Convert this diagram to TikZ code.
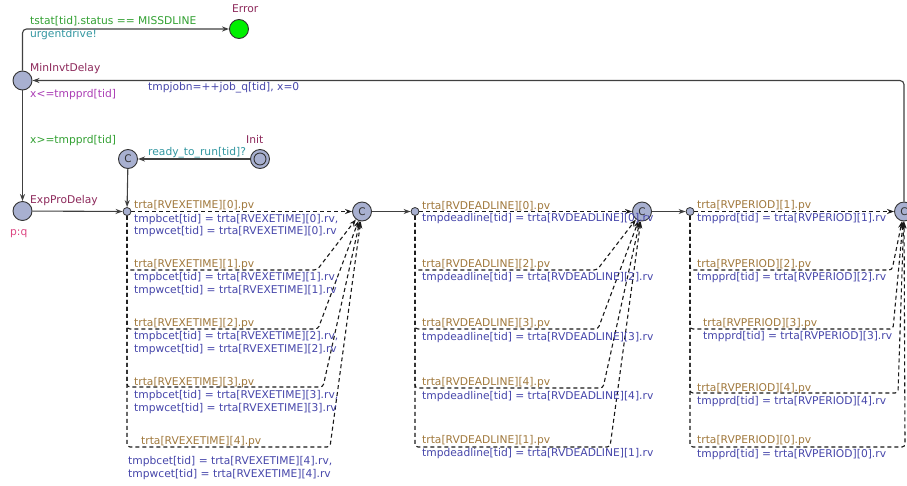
\documentclass[tikz,border=0pt]{standalone}
\usepackage{fontspec}
\setmainfont{DejaVu Sans}
\usetikzlibrary{arrows.meta}
\definecolor{cname}{RGB}{140,40,90}
\definecolor{cguard}{RGB}{50,160,50}
\definecolor{csync}{RGB}{50,150,160}
\definecolor{cupd}{RGB}{70,70,170}
\definecolor{cinv}{RGB}{170,60,180}
\definecolor{cpv}{RGB}{160,120,60}
\definecolor{cpq}{RGB}{220,70,130}
\definecolor{cloc}{RGB}{168,176,208}
\definecolor{cerr}{RGB}{0,240,0}
\newcommand\lblfont{\fontsize{10.7}{13}\selectfont}
\begin{document}
\begin{tikzpicture}[x=1pt,y=-1pt,
 loc/.style={circle,draw=black!80,fill=cloc,line width=0.9pt,minimum size=19pt,inner sep=0pt},
 branchpt/.style={circle,draw=black!80,fill=cloc,line width=0.8pt,minimum size=8pt,inner sep=0pt},
 commit/.style={loc,font=\fontsize{10.5}{10.5}\selectfont,text=black!80},
 edge/.style={draw=black!75,line width=1.1pt,-{Stealth[open,length=7pt,width=5pt]},rounded corners=4pt},
 dedge/.style={edge,draw=black!90,dash pattern=on 4pt off 3pt,rounded corners=3pt},
 lab/.style={anchor=west,inner sep=0pt,text height=7.8pt,text depth=0pt,font=\lblfont},
]
\useasboundingbox (0,0) rectangle (907,485);

% locations
\node[loc,fill=cerr] (error) at (239,29) {};
\node[loc] (mininv) at (22.5,80.5) {};
\node[loc] (exppro) at (22.5,211) {};
\node[loc] (init) at (260,159) {};
\draw[black!80,line width=0.9pt] (init.center) circle[radius=6pt];
\node[commit] (c1) at (128,159) {C};
\node[branchpt] (b1) at (127,211.5) {};
\node[commit] (c2) at (362,211.5) {C};
\node[branchpt] (b2) at (415,211.5) {};
\node[commit] (c3) at (642,211.5) {C};
\node[branchpt] (b3) at (690,211.5) {};
\node[commit] (c4) at (904,211.5) {C};

% location labels
\node[lab,text=cname] (nerror) at (232,9) {Error};
\node[lab,text=cname] (nmininv) at (30,68) {MinInvtDelay};
\node[lab,text=cinv] (imininv) at (30,94) {x<=tmpprd[tid]};
\node[lab,text=cname] (ninit) at (246,140) {Init};
\node[lab,text=cname] (nexppro) at (30,200) {ExpProDelay};
\node[lab,text=cpq] (rexppro) at (10,232) {p:q};

% solid edges
\draw[edge] (mininv) |- (error);
\node[lab,text=cguard] (g1) at (30,21) {tstat[tid].status == MISSDLINE};
\node[lab,text=csync] (s1) at (30,34) {urgentdrive!};
\draw[edge] (c4) |- (mininv);
\node[lab,text=cupd] (u1) at (148,87) {tmpjobn=++job\_q[tid], x=0};
\draw[edge] (mininv) -- (exppro);
\node[lab,text=cguard] (g2) at (30,140) {x>=tmpprd[tid]};
\draw[edge] (init) -- (c1);
\node[lab,text=csync] (s2) at (148,151.5) {ready\_to\_run[tid]?};
\draw[edge] (c1) -- (b1);
\draw[edge] (exppro) -- (b1);
\draw[edge] (c2) -- (b2);
\draw[edge] (c3) -- (b3);

% EXETIME branches
\draw[dedge] (b1) -- (c2);
\draw[dedge] (b1) -- (127,270) -- (317,270) -- (c2);
\draw[dedge] (b1) -- (127,329) -- (318,329) -- (c2);
\draw[dedge] (b1) -- (127,387) -- (323,387) -- (c2);
\draw[dedge] (b1) -- (127,447) -- (330,447) -- (c2);
\node[lab,text=cpv] (e0p) at (134,205) {trta[RVEXETIME][0].pv};
\node[lab,text=cupd] (e0b) at (134,218.5) {tmpbcet[tid] = trta[RVEXETIME][0].rv,};
\node[lab,text=cupd] (e0w) at (134,231) {tmpwcet[tid] = trta[RVEXETIME][0].rv};
\node[lab,text=cpv] (e1p) at (134,264) {trta[RVEXETIME][1].pv};
\node[lab,text=cupd] (e1b) at (134,277) {tmpbcet[tid] = trta[RVEXETIME][1].rv,};
\node[lab,text=cupd] (e1w) at (134,290) {tmpwcet[tid] = trta[RVEXETIME][1].rv};
\node[lab,text=cpv] (e2p) at (134,323) {trta[RVEXETIME][2].pv};
\node[lab,text=cupd] (e2b) at (134,336) {tmpbcet[tid] = trta[RVEXETIME][2].rv,};
\node[lab,text=cupd] (e2w) at (134,349) {tmpwcet[tid] = trta[RVEXETIME][2].rv};
\node[lab,text=cpv] (e3p) at (134,382) {trta[RVEXETIME][3].pv};
\node[lab,text=cupd] (e3b) at (134,395) {tmpbcet[tid] = trta[RVEXETIME][3].rv,};
\node[lab,text=cupd] (e3w) at (134,407.5) {tmpwcet[tid] = trta[RVEXETIME][3].rv};
\node[lab,text=cpv] (e4p) at (141,440.5) {trta[RVEXETIME][4].pv};
\node[lab,text=cupd] (e4b) at (128,461) {tmpbcet[tid] = trta[RVEXETIME][4].rv,};
\node[lab,text=cupd] (e4w) at (128,473.5) {tmpwcet[tid] = trta[RVEXETIME][4].rv};

% DEADLINE branches
\draw[dedge] (b2) -- (c3);
\draw[dedge] (b2) -- (415,270) -- (597,270) -- (c3);
\draw[dedge] (b2) -- (415,329) -- (598,329) -- (c3);
\draw[dedge] (b2) -- (415,388) -- (603,388) -- (c3);
\draw[dedge] (b2) -- (415,447) -- (610,447) -- (c3);
\node[lab,text=cpv] (d0p) at (422,205.5) {trta[RVDEADLINE][0].pv};
\node[lab,text=cupd] (d0u) at (422,218) {tmpdeadline[tid] = trta[RVDEADLINE][0].rv};
\node[lab,text=cpv] (d2p) at (422,264) {trta[RVDEADLINE][2].pv};
\node[lab,text=cupd] (d2u) at (422,277) {tmpdeadline[tid] = trta[RVDEADLINE][2].rv};
\node[lab,text=cpv] (d3p) at (422,323) {trta[RVDEADLINE][3].pv};
\node[lab,text=cupd] (d3u) at (422,336.5) {tmpdeadline[tid] = trta[RVDEADLINE][3].rv};
\node[lab,text=cpv] (d4p) at (422,382) {trta[RVDEADLINE][4].pv};
\node[lab,text=cupd] (d4u) at (422,395.5) {tmpdeadline[tid] = trta[RVDEADLINE][4].rv};
\node[lab,text=cpv] (d1p) at (422,440) {trta[RVDEADLINE][1].pv};
\node[lab,text=cupd] (d1u) at (422,453) {tmpdeadline[tid] = trta[RVDEADLINE][1].rv};

% PERIOD branches
\draw[dedge] (b3) -- (c4);
\draw[dedge] (b3) -- (690,270) -- (892,270) -- (c4);
\draw[dedge] (b3) -- (690,329) -- (893,329) -- (c4);
\draw[dedge] (b3) -- (690,393) -- (898,393) -- (c4);
\draw[dedge] (b3) -- (690,447) -- (905,447) -- (c4);
\node[lab,text=cpv] (p1p) at (697,205) {trta[RVPERIOD][1].pv};
\node[lab,text=cupd] (p1u) at (697,218) {tmpprd[tid] = trta[RVPERIOD][1].rv};
\node[lab,text=cpv] (p2p) at (697,264) {trta[RVPERIOD][2].pv};
\node[lab,text=cupd] (p2u) at (697,277) {tmpprd[tid] = trta[RVPERIOD][2].rv};
\node[lab,text=cpv] (p3p) at (703,323) {trta[RVPERIOD][3].pv};
\node[lab,text=cupd] (p3u) at (703,336) {tmpprd[tid] = trta[RVPERIOD][3].rv};
\node[lab,text=cpv] (p4p) at (697,388) {trta[RVPERIOD][4].pv};
\node[lab,text=cupd] (p4u) at (697,401) {tmpprd[tid] = trta[RVPERIOD][4].rv};
\node[lab,text=cpv] (p0p) at (697,440) {trta[RVPERIOD][0].pv};
\node[lab,text=cupd] (p0u) at (697,454) {tmpprd[tid] = trta[RVPERIOD][0].rv};
\end{tikzpicture}
\end{document}
